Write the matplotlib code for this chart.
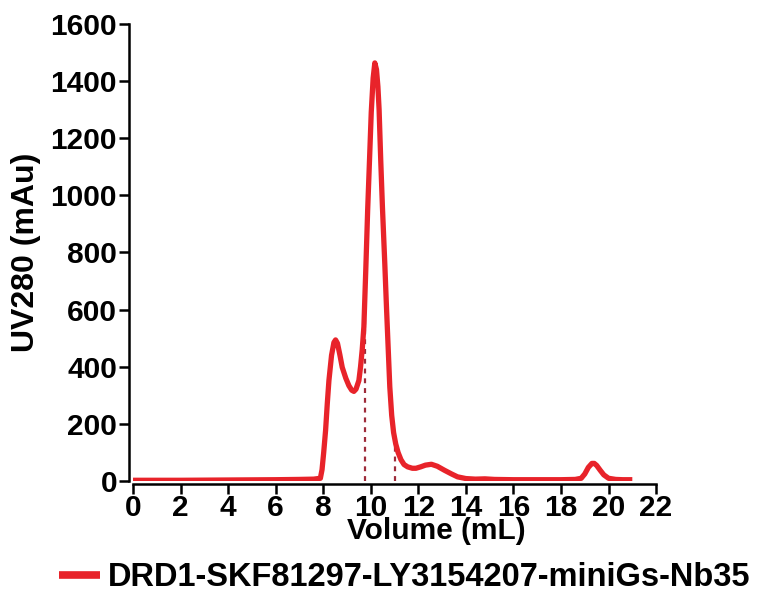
import numpy as np
import matplotlib
matplotlib.use("Agg")
import matplotlib.pyplot as plt

# Chromatogram trace (volume in mL, UV280 in mAu)
volume = [0, 2, 4, 6, 7.0, 7.6, 7.88, 7.95, 8.02, 8.1, 8.17, 8.24, 8.35, 8.45, 8.52,
          8.6, 8.7, 8.8, 8.95, 9.08, 9.2, 9.29, 9.38, 9.5, 9.57, 9.64, 9.71, 9.79,
          9.87, 9.95, 10.02, 10.1, 10.17, 10.24, 10.3, 10.35, 10.42, 10.49, 10.59,
          10.66, 10.73, 10.8, 10.88, 10.96, 11.05, 11.15, 11.27, 11.4, 11.55, 11.75,
          11.9, 12.1, 12.3, 12.55, 12.8, 13.1, 13.4, 13.65, 14.0, 14.4, 14.8, 15.2,
          16, 17, 18, 18.6, 18.85, 19.0, 19.15, 19.3, 19.4, 19.5, 19.65, 19.8, 20.0,
          20.3, 20.6, 21.0]
uv280 = [3, 3, 4, 5, 6, 7, 10, 40, 100, 178, 270, 352, 440, 485, 494,
         482, 442, 398, 360, 334, 318, 314, 322, 352, 400, 460, 540, 739,
         950, 1130, 1290, 1410, 1463, 1440, 1380, 1300, 1120, 960, 760,
         610, 470, 330, 230, 170, 130, 100, 75, 58, 50, 45,
         45, 50, 56, 59, 52, 38, 25, 15, 9, 7, 8, 6,
         5, 5, 5, 6, 10, 25, 48, 62, 62, 55, 38, 22, 10,
         6, 5, 5]

fraction_marks = [9.75, 11.02]   # dashed fraction boundaries (mL)
series_label = "DRD1-SKF81297-LY3154207-miniGs-Nb35"
xticks = list(range(0, 23, 2))
yticks = list(range(0, 1601, 200))

plt.rcParams['font.family'] = ['Liberation Sans', 'DejaVu Sans']
plt.rcParams['font.weight'] = 'bold'

fig = plt.figure(figsize=(7.57, 5.94), dpi=100)
ax = fig.add_axes([0.1757, 0.190, 0.691, 0.770])

red = '#E8232A'
line, = ax.plot(volume, uv280, color=red, lw=3.8, solid_capstyle='butt',
                zorder=3, label=series_label)
for fm in fraction_marks:
    top = np.interp(fm, volume, uv280)
    ax.plot([fm, fm], [0, top], color='#9E2B3A', lw=1.6, ls=(0, (2.2, 2.2)),
            zorder=2)

ax.set_xlim(0, 22)
ax.set_ylim(0, 1600)
ax.set_xticks(xticks)
ax.set_yticks(yticks)
ax.tick_params(direction='out', length=7, width=1.8, labelsize=21.5,
               pad=1.5)
ax.tick_params(axis='x', pad=0.5)
for lab in ax.get_xticklabels() + ax.get_yticklabels():
    lab.set_fontweight('bold')
for s in ['top', 'right']:
    ax.spines[s].set_visible(False)
for s in ['left', 'bottom']:
    ax.spines[s].set_linewidth(1.8)
ax.spines['left'].set_position(('outward', 3))
ax.spines['bottom'].set_position(('outward', 2))

ax.set_xlabel('Volume (mL)', fontsize=21.5, fontweight='bold')
ax.xaxis.set_label_coords(0.58, -0.079)
ax.set_ylabel('UV280 (mAu)', fontsize=23, fontweight='bold')
ax.yaxis.set_label_coords(-0.176, 0.50)

leg = fig.legend(handles=[line], loc='center', bbox_to_anchor=(0.535, 0.027),
                 frameon=False, handlelength=1.25, handletextpad=0.25,
                 prop={'weight': 'bold', 'size': 23.5})
for h in leg.legend_handles:
    h.set_linewidth(5.5)

fig.savefig('out.png', dpi=100)
